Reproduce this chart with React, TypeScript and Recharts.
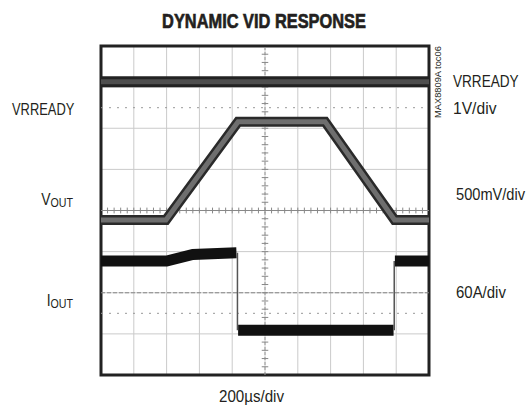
import React from 'react';
import { LineChart, Line, XAxis, YAxis, CartesianGrid, ReferenceLine, ReferenceArea } from 'recharts';

// scope screen: 10 horizontal divisions (200us each), 8 vertical divisions
const xTicks = [0, 1, 2, 3, 4, 5, 6, 7, 8, 9, 10];
const yTicks = [0, 1, 2, 3, 4, 5, 6, 7, 8];

// VRREADY trace (1V/div)
const vrreadyTime = [0, 10];
const vrreadyLevel = [7.13, 7.13];

// VOUT trace (500mV/div)
const voutTime = [0, 1.98, 4.18, 6.83, 8.95, 10];
const voutLevel = [3.77, 3.77, 6.16, 6.16, 3.77, 3.77];

// IOUT trace (60A/div), null = gap where the trace jumps
const ioutTime = [0, 2.0, 2.8, 4.13, 4.15, 4.18, 8.92, 8.94, 8.96, 10];
const ioutLevel = [2.77, 2.77, 2.93, 2.97, null, 1.09, 1.09, null, 2.77, 2.77];
const ioutEdgeTime = [4.16, 4.16, 4.16, 8.94, 8.94];
const ioutEdgeLevel = [2.97, 1.09, null, 1.09, 2.77];

// marker lines
const dottedLevels = [6.5, 1.5];
const dashedLevel = 2;

const FONT = "'Liberation Sans', Arial, sans-serif";

const zip = (xs: number[], ys: (number | null)[]) => xs.map((x, i) => ({ x, y: ys[i] }));

const minorX: number[] = [];
for (let i = 1; i < 50; i++) minorX.push(i * 0.2);
const minorY: number[] = [];
for (let i = 1; i < 40; i++) minorY.push(i * 0.2);

// condensed text: plain Liberation Sans squeezed horizontally
const Txt = ({ x, y, sx, size, bold, anchor, children }: any) => (
  <g transform={`translate(${x} ${y}) scale(${sx} 1)`}>
    <text
      x={0}
      y={0}
      fontSize={size}
      fontWeight={bold ? 'bold' : 'normal'}
      textAnchor={anchor || 'start'}
      stroke={bold ? '#231f20' : 'none'}
      strokeWidth={bold ? 0.7 : 0}
    >
      {children}
    </text>
  </g>
);

export default function App() {
  const vrready = zip(vrreadyTime, vrreadyLevel);
  const vout = zip(voutTime, voutLevel);
  const iout = zip(ioutTime, ioutLevel);
  const ioutEdge = zip(ioutEdgeTime, ioutEdgeLevel);

  return (
    <div style={{ position: 'absolute', left: 0, top: 0, width: 526, height: 406, background: '#fff' }}>
      <LineChart width={526} height={406} margin={{ top: 46, right: 97, bottom: 31, left: 101 }}>
        <XAxis type="number" dataKey="x" domain={[0, 10]} ticks={xTicks} hide />
        <YAxis type="number" dataKey="y" domain={[0, 8]} ticks={yTicks} hide />
        <CartesianGrid stroke="#cacaca" strokeWidth={1} />
        {dottedLevels.map((v) => (
          <ReferenceLine key={'d' + v} y={v} stroke="#999" strokeDasharray="2 6" />
        ))}
        <ReferenceLine y={dashedLevel} stroke="#888" strokeDasharray="4 2" />
        <ReferenceLine x={5} stroke="#999" strokeDasharray="3 2" />
        <ReferenceLine y={4} stroke="#888" />
        {minorX.map((v) => (
          <ReferenceLine key={'mx' + v} segment={[{ x: v, y: 3.93 }, { x: v, y: 4.07 }]} stroke="#888" />
        ))}
        {minorY.map((v) => (
          <ReferenceLine key={'my' + v} segment={[{ x: 4.9, y: v }, { x: 5.1, y: v }]} stroke="#888" />
        ))}
        <Line data={vrready} dataKey="y" stroke="#222" strokeWidth={11} dot={false} isAnimationActive={false} />
        <Line data={vrready} dataKey="y" stroke="#4e4e4e" strokeWidth={5} dot={false} isAnimationActive={false} />
        <Line data={vout} dataKey="y" stroke="#2a2a2a" strokeWidth={10} dot={false} isAnimationActive={false} />
        <Line data={vout} dataKey="y" stroke="#6e6e6e" strokeWidth={5} dot={false} isAnimationActive={false} />
        <Line data={iout} dataKey="y" stroke="#111" strokeWidth={11} dot={false} isAnimationActive={false} />
        <Line data={ioutEdge} dataKey="y" stroke="#555" strokeWidth={1.5} dot={false} isAnimationActive={false} />
        <ReferenceArea x1={0} x2={10} y1={0} y2={8} fill="none" stroke="#222" strokeWidth={3} />
      </LineChart>
      <svg width={526} height={406} style={{ position: 'absolute', left: 0, top: 0, pointerEvents: 'none' }}>
        <g fontFamily={FONT} fill="#231f20">
          <Txt x={264} y={28} sx={0.78} size={21} bold anchor="middle">DYNAMIC VID RESPONSE</Txt>
          <Txt x={12} y={115} sx={0.76} size={17}>VRREADY</Txt>
          <Txt x={73} y={205} sx={0.82} size={17} anchor="end">
            V<tspan fontSize={13} dy={2}>OUT</tspan>
          </Txt>
          <Txt x={73} y={306} sx={0.82} size={17} anchor="end">
            I<tspan fontSize={13} dy={2}>OUT</tspan>
          </Txt>
          <Txt x={453} y={87} sx={0.8} size={17}>VRREADY</Txt>
          <Txt x={453} y={114} sx={0.92} size={17}>1V/div</Txt>
          <Txt x={456} y={200} sx={0.86} size={17}>500mV/div</Txt>
          <Txt x={456} y={298} sx={0.88} size={17}>60A/div</Txt>
          <Txt x={219} y={402} sx={0.89} size={17}>200µs/div</Txt>
          <text x={441} y={118} fontSize={9.3} transform="rotate(-90 441 118)">
            MAX8809A toc06
          </text>
        </g>
      </svg>
    </div>
  );
}
